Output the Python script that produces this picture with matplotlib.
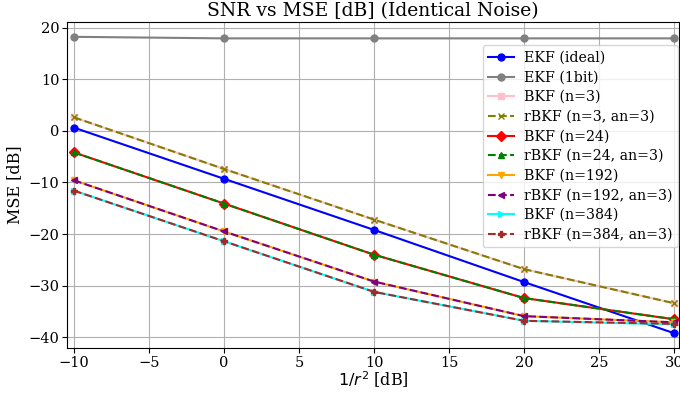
import matplotlib
matplotlib.use("Agg")
import matplotlib.pyplot as plt

snr = [-10, 0, 10, 20, 30]

ekf_ideal = [0.6, -9.3, -19.2, -29.3, -39.2]
ekf_1bit = [18.2, 17.9, 17.9, 17.9, 17.9]
bkf_3 = [2.6, -7.4, -17.2, -26.8, -33.4]
rbkf_3 = [2.6, -7.4, -17.2, -26.8, -33.4]
bkf_24 = [-4.2, -14.1, -24.0, -32.4, -36.5]
rbkf_24 = [-4.2, -14.1, -24.0, -32.4, -36.5]
bkf_192 = [-9.6, -19.5, -29.2, -35.9, -37.1]
rbkf_192 = [-9.6, -19.5, -29.2, -35.9, -37.1]
bkf_384 = [-11.6, -21.4, -31.2, -36.8, -37.5]
rbkf_384 = [-11.6, -21.4, -31.2, -36.8, -37.4]

plt.rcParams['font.family'] = 'DejaVu Serif'

fig = plt.figure(figsize=(6.8, 3.94), dpi=100)
ax = fig.add_axes([67 / 680, 46 / 394, 612 / 680, 326 / 394])

ms = 5
ax.plot(snr, ekf_ideal, '-o', color='blue', ms=ms, label='EKF (ideal)')
ax.plot(snr, ekf_1bit, '-o', color='gray', ms=ms, label='EKF (1bit)')
ax.plot(snr, bkf_3, '-s', color='pink', ms=ms, label='BKF (n=3)')
ax.plot(snr, rbkf_3, '--x', color='olive', ms=ms, label='rBKF (n=3, an=3)')
ax.plot(snr, bkf_24, '-D', color='red', ms=ms, label='BKF (n=24)')
ax.plot(snr, rbkf_24, '--^', color='green', ms=ms, label='rBKF (n=24, an=3)')
ax.plot(snr, bkf_192, '-v', color='orange', ms=ms, label='BKF (n=192)')
ax.plot(snr, rbkf_192, '--<', color='purple', ms=ms, label='rBKF (n=192, an=3)')
ax.plot(snr, bkf_384, '->', color='cyan', ms=ms, label='BKF (n=384)')
ax.plot(snr, rbkf_384, '--P', color='brown', ms=ms, label='rBKF (n=384, an=3)')

ax.set_xlim(-10.47, 30.33)
ax.set_title('SNR vs MSE [dB] (Identical Noise)', fontsize=13.5, pad=4)
ax.set_xlabel('$1/r^2$ [dB]', fontsize=11.5, labelpad=0)
ax.set_ylabel('MSE [dB]', fontsize=11.5)
ax.tick_params(labelsize=10.5, pad=2)
ax.grid(True)
ax.legend(loc='upper right', bbox_to_anchor=(0.998, 0.929), borderaxespad=0,
          fontsize=10.2, labelspacing=0.4, handlelength=1.8, handletextpad=0.7)

fig.savefig('out.png', dpi=100)
